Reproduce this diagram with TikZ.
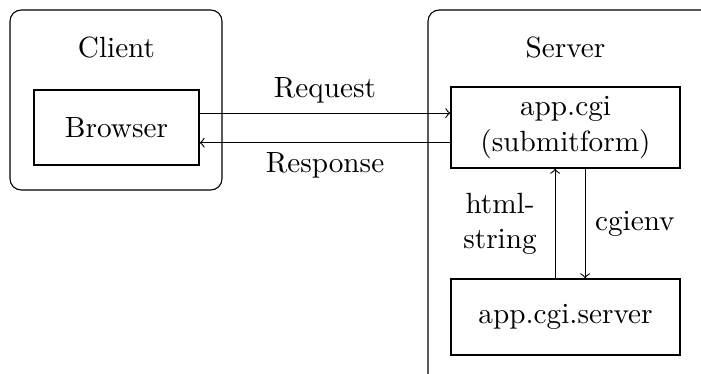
\documentclass[tikz,border=0pt]{standalone}
\usepackage{amsfonts,amssymb,amsmath}
\usetikzlibrary{positioning,calc}
\usetikzlibrary{arrows.meta,arrows}
\tikzset{prog node/.style={rectangle,draw,align=center,inner sep=0pt}}
\tikzset{box label/.style={inner sep=0pt}}

\begin{document}
\begin{tikzpicture}[>=to, on grid, every node/.style={font=\fontsize{10.4}{12.5}\selectfont}]
      \useasboundingbox (0,0) rectangle (8.7625,4.675);
      \clip (0,0) rectangle (8.7625,4.675);
      % frames
      \draw[rounded corners] (0.125,2.3) rectangle (2.775,4.55);
      \draw[rounded corners] (5.35,-0.12) -- (5.35,4.55) -- (10,4.55);
      \node[prog node, minimum width=2.0625cm, minimum height=0.9375cm] (browser) at (1.456,3.081) {Browser};
      \node[prog node, minimum width=2.8625cm, minimum height=1.0125cm] (cgi) [right = 5.613cm of browser] {app.cgi\\(submitform)};
      \node[prog node, minimum width=2.8625cm, minimum height=0.95cm] (srv) [below = 2.3685cm of cgi] {app.cgi.server};
      \node[box label] (client) [above = 0.994cm of browser] {Client};
      \node[box label] (server) [above = 0.994cm of cgi] {Server};
      \draw[->] ([yshift=0.18cm]browser.east) -- node[above] {Request} ([yshift=0.18cm]cgi.west);
      \draw[->] ([yshift=-0.19cm]cgi.west) -- node[below] {Response} ([yshift=-0.19cm]browser.east);
      \draw[->] ([xshift=-0.13cm]srv.north) -- node[left=3pt, align=center] {html-\\string} ([xshift=-0.13cm]cgi.south);
      \draw[->] ([xshift=0.245cm]cgi.south) -- node[right] {cgienv} ([xshift=0.245cm]srv.north);
    \end{tikzpicture}
\end{document}
